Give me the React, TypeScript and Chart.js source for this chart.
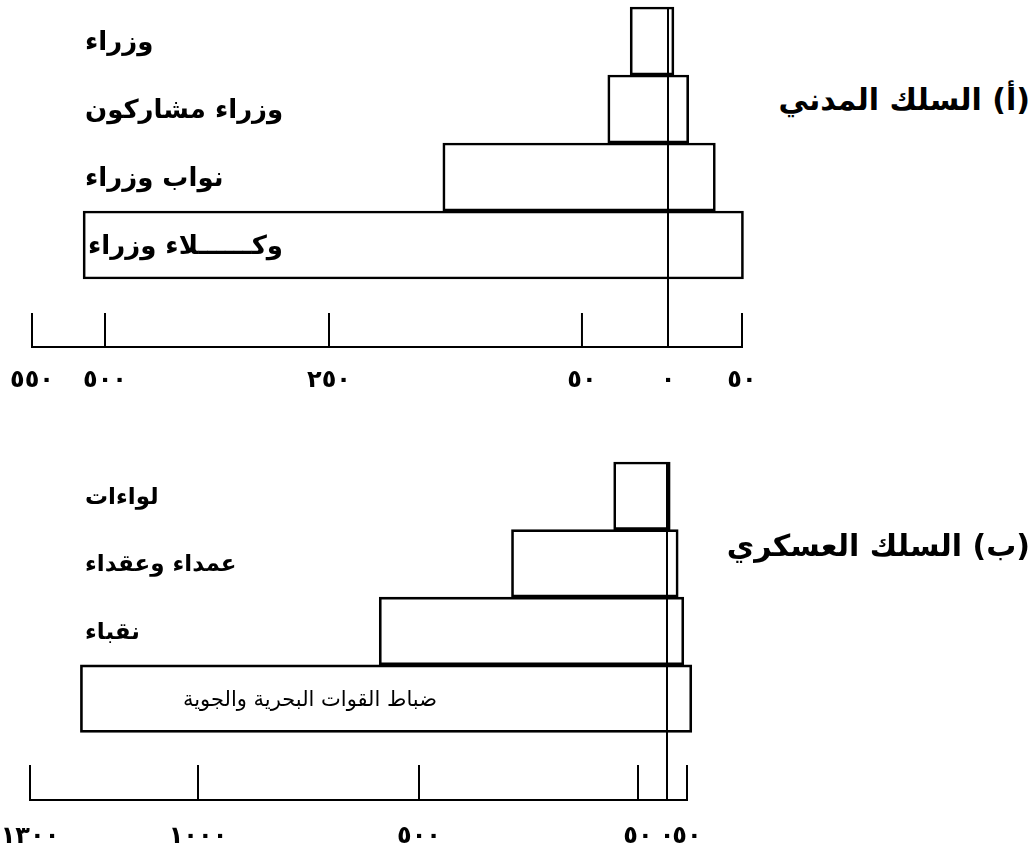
import React, { useEffect, useRef } from 'react';
import { Chart, registerables, LinearScale } from 'chart.js';

// ---------- data ----------
const civilCategories = ['وزراء', 'وزراء مشاركون', 'نواب وزراء', 'وكــــــلاء وزراء'];
const civilLeft = [22, 35, 160, 515];
const civilRight = [4, 14, 32, 51];
const civilTickValues = [-550, -500, -250, -50, 0, 50];
const civilTickLabels = ['٥٥٠', '٥٠٠', '٢٥٠', '٥٠', '٠', '٥٠'];

const militaryCategories = ['لواءات', 'عمداء وعقداء', 'نقباء', 'ضباط القوات البحرية والجوية'];
const militaryLeft = [100, 310, 590, 1210];
const militaryRight = [8, 28, 42, 62];
const militaryTickValues = [-1300, -1000, -500, -50, 0, 50];
const militaryTickLabels = ['١٣٠٠', '١٠٠٠', '٥٠٠', '٥٠', '٠', '٥٠'];

// ---------- a broken (piecewise linear) axis, as drawn in the original ----------
class PiecewiseScale extends LinearScale {
  static id = 'piecewise';
  static defaults = LinearScale.defaults;
  _fracFor(value: number): number {
    const b: { value: number; at: number }[] = (this.options as any).breaks;
    let i = 0;
    if (value <= b[0].value) i = 0;
    else if (value >= b[b.length - 1].value) i = b.length - 2;
    else {
      while (i < b.length - 2 && value > b[i + 1].value) i++;
    }
    const a = b[i], c = b[i + 1];
    return a.at + ((value - a.value) * (c.at - a.at)) / (c.value - a.value);
  }
  getPixelForValue(value: number) {
    if (value === null || value === undefined || isNaN(value)) return NaN;
    return this.getPixelForDecimal(this._fracFor(value));
  }
  getValueForPixel(pixel: number) {
    const f = this.getDecimalForPixel(pixel);
    const b: { value: number; at: number }[] = (this.options as any).breaks;
    let i = 0;
    while (i < b.length - 2 && f > b[i + 1].at) i++;
    const a = b[i], c = b[i + 1];
    return a.value + ((f - a.at) * (c.value - a.value)) / (c.at - a.at);
  }
}

Chart.register(...registerables, PiecewiseScale);

const FONT = "'DejaVu Sans', sans-serif";

const categoryLabelPlugin = {
  id: 'catLabels',
  afterDatasetsDraw(chart: any, _args: any, opts: any) {
    const { ctx, chartArea, scales } = chart;
    ctx.save();
    ctx.fillStyle = '#000';
    ctx.textAlign = 'left';
    ctx.textBaseline = 'middle';
    (opts.labels as string[]).forEach((lab, i) => {
      ctx.font = opts.fonts[i];
      ctx.fillText(lab, chartArea.left + opts.offsets[i], scales.y.getPixelForValue(i) + opts.dy);
    });
    ctx.restore();
  },
};

const innerTicksPlugin = {
  id: 'innerTicks',
  afterDraw(chart: any, _args: any, opts: any) {
    const { ctx, chartArea, scales } = chart;
    const x = scales.x;
    ctx.save();
    ctx.strokeStyle = '#000';
    ctx.lineWidth = 2;
    x.ticks.forEach((t: any) => {
      const px = x.getPixelForValue(t.value);
      ctx.beginPath();
      ctx.moveTo(px, chartArea.bottom);
      ctx.lineTo(px, chartArea.bottom - opts.length);
      ctx.stroke();
    });
    ctx.restore();
  },
};

function buildConfig(
  categories: string[],
  left: number[],
  right: number[],
  tickValues: number[],
  tickLabels: string[],
  tickAt: number[],
  labelOffsets: number[],
  labelFonts: string[],
  padding: { left: number; right: number; top: number; bottom: number },
  tickLen: number,
  tickPad: number
): any {
  const labels = [...categories, ''];
  const data: any[] = categories.map((_, i) => [-left[i], right[i]]);
  data.push(null);
  return {
    type: 'bar',
    data: {
      labels,
      datasets: [
        {
          data,
          backgroundColor: 'rgba(0,0,0,0)',
          borderColor: '#000',
          borderWidth: 2,
          borderSkipped: false,
          barPercentage: 1,
          categoryPercentage: 1,
          clip: false,
        },
      ],
    },
    options: {
      indexAxis: 'y',
      animation: false,
      responsive: false,
      layout: { padding },
      plugins: {
        legend: { display: false },
        tooltip: { enabled: false },
        catLabels: {
          labels: categories,
          offsets: labelOffsets,
          fonts: labelFonts,
          dy: 2,
        },
        innerTicks: { length: tickLen },
      },
      scales: {
        y: { type: 'category', display: false },
        x: {
          type: 'piecewise',
          min: tickValues[0],
          max: tickValues[tickValues.length - 1],
          breaks: tickValues.map((v, i) => ({ value: v, at: tickAt[i] })),
          afterBuildTicks: (axis: any) => {
            axis.ticks = tickValues.map((v) => ({ value: v }));
          },
          afterFit: (axis: any) => {
            axis.height = tickPad + 30;
            axis.paddingLeft = 0;
            axis.paddingRight = 0;
          },
          ticks: {
            autoSkip: false,
            maxRotation: 0,
            minRotation: 0,
            padding: tickPad,
            color: '#000',
            font: { family: FONT, size: 24, weight: 'bold' },
            callback: (v: number) => tickLabels[tickValues.indexOf(v)],
          },
          grid: {
            drawTicks: false,
            lineWidth: 2,
            color: (c: any) => (c.tick && c.tick.value === 0 ? '#000' : 'rgba(0,0,0,0)'),
          },
          border: { display: true, color: '#000', width: 2 },
        },
      },
    },
    plugins: [categoryLabelPlugin, innerTicksPlugin],
  };
}

function Panel(props: { config: any; width: number; height: number; top: number }) {
  const ref = useRef<HTMLCanvasElement | null>(null);
  useEffect(() => {
    if (!ref.current) return;
    const chart = new Chart(ref.current, props.config);
    return () => chart.destroy();
  }, []);
  return (
    <canvas
      ref={ref}
      width={props.width}
      height={props.height}
      style={{ position: 'absolute', left: 0, top: props.top, width: props.width, height: props.height }}
    />
  );
}

export default function App() {
  const topFont = `bold 26px ${FONT}`;
  const botFont = `bold 23px ${FONT}`;
  const civilConfig = buildConfig(
    civilCategories,
    civilLeft,
    civilRight,
    civilTickValues,
    civilTickLabels,
    [0, 0.1028, 0.4183, 0.7746, 0.8958, 1],
    [53, 53, 53, 56],
    [topFont, topFont, topFont, topFont],
    { left: 32, right: 18, top: 7, bottom: 4 },
    34,
    19
  );
  const militaryConfig = buildConfig(
    militaryCategories,
    militaryLeft,
    militaryRight,
    militaryTickValues,
    militaryTickLabels,
    [0, 0.2557, 0.5921, 0.9254, 0.9696, 1],
    [55, 55, 55, 153],
    [botFont, botFont, botFont, `21px ${FONT}`],
    { left: 30, right: 73, top: 32, bottom: 3 },
    35,
    22
  );
  const titleStyle: React.CSSProperties = {
    position: 'absolute',
    right: 4,
    fontFamily: FONT,
    fontSize: 30,
    fontWeight: 'bold',
    color: '#000',
    whiteSpace: 'nowrap',
    lineHeight: '40px',
  };
  return (
    <div style={{ position: 'absolute', left: 0, top: 0, width: 1034, height: 855, background: '#fff', overflow: 'hidden' }}>
      <Panel config={civilConfig} width={760} height={400} top={0} />
      <Panel config={militaryConfig} width={760} height={425} top={430} />
      <div dir="rtl" style={{ ...titleStyle, top: 80 }}>(أ) السلك المدني</div>
      <div dir="rtl" style={{ ...titleStyle, top: 526 }}>(ب) السلك العسكري</div>
    </div>
  );
}
